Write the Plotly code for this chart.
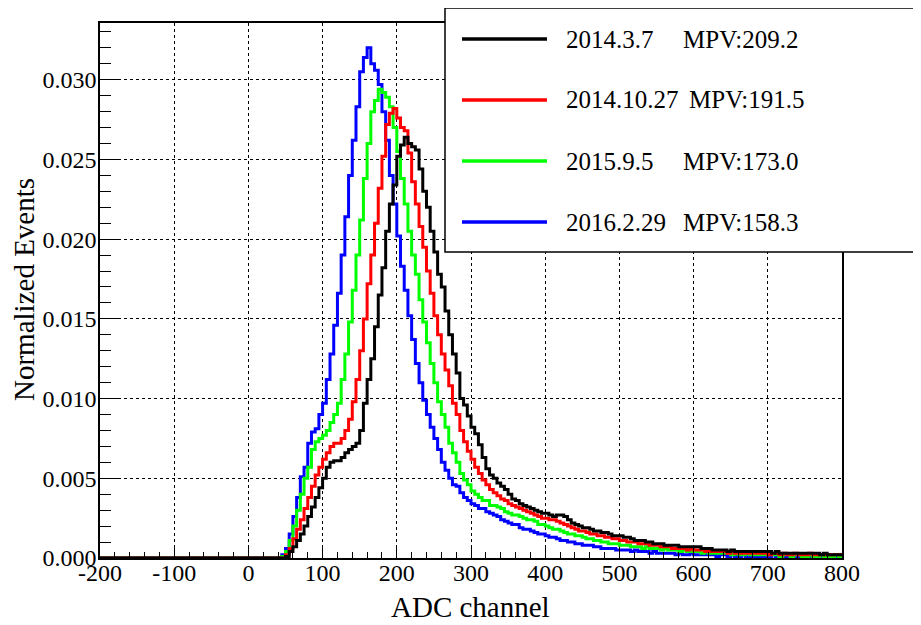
import plotly.graph_objects as go

# ---- data -------------------------------------------------------------
BIN_START = -200
BIN_WIDTH = 5
DATA_START = 40          # first non-empty bin (left edge)
SCALE = 1e-4             # values below are in units of 1e-4

labels = ["2014.3.7", "2014.10.27", "2015.9.5", "2016.2.29"]
mpv = ["MPV:209.2", "MPV:191.5", "MPV:173.0", "MPV:158.3"]
colors = ["#000000", "#ff0000", "#00ff00", "#0000ff"]

black_e4 = [
    0, 0, 1, 4, 7, 11, 15, 20, 26, 32,
    38, 44, 50, 57, 60, 61, 61, 63, 66, 68,
    70, 72, 80, 97, 112, 125, 145, 165, 182, 205,
    222, 234, 252, 259, 264, 260, 258, 256, 244, 230,
    220, 205, 192, 178, 170, 155, 140, 128, 116, 100,
    96, 89, 82, 78, 71, 63, 56, 52, 50, 47,
    45, 43, 40, 37, 36, 34, 33, 32, 31, 30,
    29, 28, 28, 27, 26, 27, 27, 26, 24, 22,
    21, 20, 19, 19, 18, 17, 17, 16, 16, 15,
    14, 14, 14, 13, 13, 12, 11, 11, 11, 10,
    10, 9, 9, 9, 8, 8, 8, 8, 7, 7,
    7, 7, 7, 7, 6, 6, 6, 5, 5, 5,
    5, 4, 5, 4, 4, 4, 4, 4, 4, 4,
    4, 4, 4, 3, 4, 3, 3, 3, 3, 3,
    3, 3, 3, 3, 3, 3, 2, 3, 2, 2,
    2, 2,
]
red_e4 = [
    0, 0, 2, 6, 12, 18, 24, 31, 38, 45,
    52, 57, 62, 66, 70, 72, 72, 75, 80, 87,
    98, 112, 130, 150, 172, 190, 210, 232, 252, 272,
    279, 282, 276, 270, 268, 254, 236, 222, 208, 195,
    180, 166, 152, 140, 128, 118, 108, 97, 90, 80,
    73, 67, 62, 57, 53, 49, 46, 43, 41, 39,
    37, 36, 34, 33, 32, 31, 30, 29, 28, 27,
    26, 25, 25, 24, 24, 23, 22, 21, 20, 19,
    18, 17, 17, 16, 15, 15, 14, 14, 13, 13,
    12, 12, 11, 11, 10, 10, 10, 9, 9, 9,
    8, 8, 8, 7, 7, 7, 6, 6, 6, 6,
    5, 6, 5, 5, 5, 4, 4, 4, 4, 4,
    4, 3, 4, 3, 3, 3, 3, 3, 3, 3,
    3, 3, 2, 3, 3, 2, 3, 2, 2, 3,
    2, 2, 2, 3, 2, 2, 2, 2, 2, 2,
    2, 2,
]
green_e4 = [
    0, 1, 4, 11, 20, 30, 40, 50, 57, 68,
    73, 75, 77, 80, 85, 90, 97, 112, 128, 148,
    168, 190, 212, 238, 260, 280, 287, 294, 292, 289,
    283, 270, 255, 238, 222, 205, 190, 178, 162, 148,
    135, 122, 110, 98, 90, 82, 72, 66, 60, 53,
    49, 46, 42, 40, 38, 36, 36, 33, 33, 32,
    31, 29, 28, 27, 27, 26, 25, 24, 24, 23,
    21, 21, 20, 19, 18, 18, 17, 16, 15, 15,
    14, 14, 13, 12, 12, 11, 11, 10, 10, 9,
    9, 9, 8, 8, 8, 7, 7, 7, 6, 7,
    6, 6, 6, 5, 6, 5, 5, 5, 4, 5,
    4, 4, 4, 4, 3, 4, 3, 3, 3, 3,
    3, 3, 2, 3, 2, 2, 3, 2, 2, 2,
    2, 2, 2, 2, 2, 1, 2, 2, 1, 2,
    2, 1, 1, 2, 1, 1, 2, 1, 1, 1,
    2, 1,
]
blue_e4 = [
    0, 2, 6, 15, 26, 38, 51, 57, 72, 79,
    81, 90, 97, 112, 128, 146, 166, 190, 214, 240,
    262, 283, 305, 314, 320, 310, 306, 297, 280, 262,
    240, 222, 202, 183, 168, 152, 137, 122, 110, 99,
    90, 82, 75, 68, 60, 55, 50, 46, 45, 41,
    38, 36, 34, 33, 31, 31, 29, 28, 27, 26,
    24, 23, 22, 21, 21, 19, 18, 18, 17, 16,
    15, 15, 14, 13, 13, 12, 11, 11, 10, 10,
    9, 9, 8, 8, 8, 7, 7, 6, 6, 6,
    6, 5, 5, 5, 5, 4, 5, 4, 4, 4,
    3, 4, 3, 3, 3, 3, 3, 2, 3, 2,
    2, 3, 2, 2, 2, 2, 2, 2, 1, 2,
    2, 1, 2, 1, 1, 2, 1, 1, 1, 1,
    1, 1, 1, 2, 1, 1, 1, 1, 1, 1,
    1, 1, 1, 1, 1, 0, 1, 1, 1, 1,
    1, 1,
]
series = [black_e4, red_e4, green_e4, blue_e4]

x_ticks = [-200, -100, 0, 100, 200, 300, 400, 500, 600, 700, 800]
x_ticktext = ["-200", "-100", "0", "100", "200", "300", "400", "500", "600", "700", "800"]
y_ticks = [0.000, 0.005, 0.010, 0.015, 0.020, 0.025, 0.030]

# ---- figure -----------------------------------------------------------
FONT = "Liberation Serif, Times New Roman, serif"
OFF = 8                       # page body margin offset
W, H = 921 - OFF, 625 - OFF
L, R, T = 100 - OFF, 79, 23 - OFF
B = H - (558 - OFF)
X0, X1 = -200, 800
Y0, Y1 = 0.0, 0.03356

fig = go.Figure()


def hist_xy(vals):
    n_empty = (DATA_START - BIN_START) // BIN_WIDTH
    full = [0] * n_empty + list(vals)
    xs = [BIN_START + i * BIN_WIDTH for i in range(len(full) + 1)]
    ys = [v * SCALE for v in full] + [full[-1] * SCALE]
    return xs, ys


# draw blue first, black last (on top)
for idx in reversed(range(len(series))):
    xs, ys = hist_xy(series[idx])
    fig.add_trace(go.Scatter(
        x=xs, y=ys, mode="lines", line=dict(color=colors[idx], width=3, shape="hv"),
        name=f"{labels[idx]} {mpv[idx]}", showlegend=False, hoverinfo="skip"))

axis_common = dict(
    showline=True, linecolor="black", linewidth=1.5, mirror=True,
    ticks="inside", tickcolor="black", tickwidth=1.2,
    showgrid=True, gridcolor="black", gridwidth=1, griddash="dot",
    zeroline=False, tickfont=dict(family=FONT, size=24, color="black"),
)

fig.update_xaxes(
    range=[X0, X1], tickvals=x_ticks, ticktext=x_ticktext, ticklen=10,
    ticklabelstandoff=-8,
    minor=dict(dtick=20, ticks="inside", ticklen=6, tickcolor="black", tickwidth=1.2, showgrid=False),
    **axis_common)
fig.update_yaxes(
    range=[Y0, Y1], tickvals=y_ticks, tickformat=".3f", ticklen=21,
    ticklabelstandoff=-3,
    minor=dict(dtick=0.001, ticks="inside", ticklen=11, tickcolor="black", tickwidth=1.2, showgrid=False),
    **axis_common)

# ---- screen-pixel helpers for decorations ------------------------------
pw, ph = W - L - R, H - T - B


def px(sx):
    return (sx - OFF - L) / pw


def py(sy):
    return (H - B - (sy - OFF)) / ph


shapes = [dict(type="rect", xref="paper", yref="paper",
               x0=px(445), x1=px(940), y0=py(252), y1=py(8),
               fillcolor="white", line=dict(color="black", width=1.5), layer="above")]
annotations = [
    dict(xref="paper", yref="paper", x=px(470), y=py(607), text="ADC channel",
         showarrow=False, xanchor="center", yanchor="middle",
         font=dict(family=FONT, size=29, color="black")),
    dict(xref="paper", yref="paper", x=px(24), y=py(290), text="Normalized Events",
         textangle=-90, showarrow=False, xanchor="center", yanchor="middle",
         font=dict(family=FONT, size=29, color="black")),
]
row_y = [39, 100, 161, 222]
mpv_x = [681, 687, 681, 681]
for i in range(4):
    shapes.append(dict(type="line", xref="paper", yref="paper",
                       x0=px(462), x1=px(547), y0=py(row_y[i]), y1=py(row_y[i]),
                       line=dict(color=colors[i], width=3.5), layer="above"))
    annotations.append(dict(xref="paper", yref="paper", x=px(564), y=py(row_y[i]),
                            text=labels[i], showarrow=False, xanchor="left", yanchor="middle",
                            font=dict(family=FONT, size=25, color="black")))
    annotations.append(dict(xref="paper", yref="paper", x=px(mpv_x[i]), y=py(row_y[i]),
                            text=mpv[i], showarrow=False, xanchor="left", yanchor="middle",
                            font=dict(family=FONT, size=25, color="black")))

fig.update_layout(
    width=W, height=H, margin=dict(l=L, r=R, t=T, b=B, autoexpand=False),
    paper_bgcolor="white", plot_bgcolor="white",
    shapes=shapes, annotations=annotations, showlegend=False,
)

fig.write_html("out.html")
